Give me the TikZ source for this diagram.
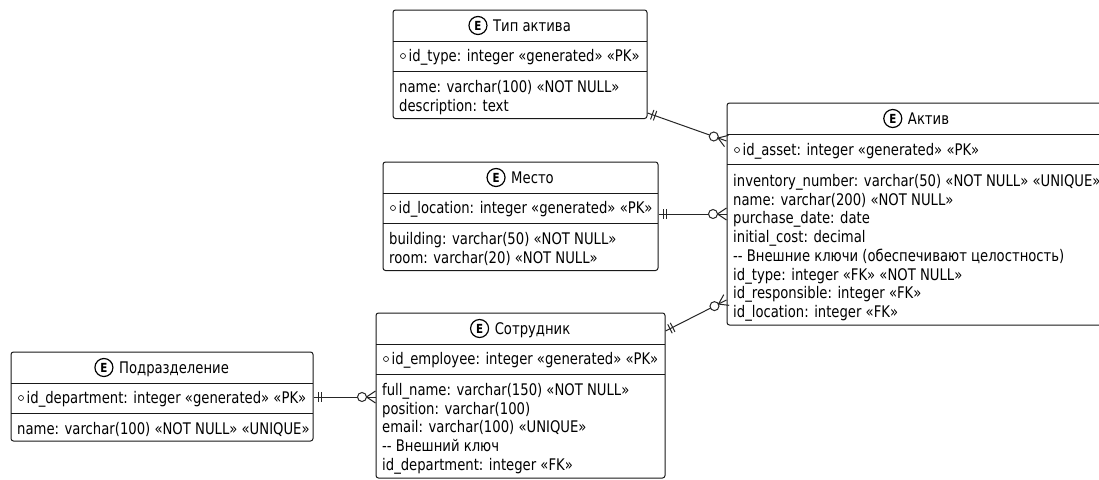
\documentclass[tikz,border=0pt]{standalone}
\usepackage{fontspec}
\setmainfont{DejaVu Sans}[FakeStretch=0.825]
\usetikzlibrary{calc,fit}
\tikzset{
  ent/.style={draw=black!90, line width=1pt, rounded corners=2.5pt, fill=white, inner sep=0pt},
  sepl/.style={draw=black!90, line width=1pt},
  txt/.style={anchor=base west, inner sep=0pt, font=\fontsize{16}{18.7}\selectfont},
  ttl/.style={anchor=base, inner sep=0pt, font=\fontsize{16}{18.7}\selectfont},
  ecirc/.style={draw=black, line width=1.2pt, circle, minimum size=18pt, inner sep=0pt, font=\bfseries\fontsize{12.5}{12.5}\selectfont},
  pk/.style={draw=black, line width=0.6pt, circle, minimum size=5pt, inner sep=0pt},
  lnk/.style={draw=black!85, line width=1pt},
}
% name, L, T, R, B, title
\newcommand\entity[6]{%
  \node[ent, fit={(#2,-#3) (#4,-#5)}] (#1) {};
  \draw[sepl] (#2,-#3-31) -- (#4,-#3-31);
  \draw[sepl] (#2,-#3-61) -- (#4,-#3-61);
  \node[ttl] (#1-t) at ({(#2+#4)/2+12},-#3-21.3) {#6};
  \node[ecirc] (#1-e) at ($(#1-t.base west)+(-15,5.8)$) {E};
}
% name, L, center y, text
\newcommand\pkrow[4]{%
  \node[pk] (#1-o) at (#2+10,-#3) {};
  \node[txt] (#1) at (#2+15.5,-#3-5.5) {#4};
}
\newcommand\attr[4]{\node[txt] (#1) at (#2+6,-#3-5.5) {#4};}
\newcommand\erlink[2]{%
  \draw[lnk] (#1) -- (#2);
  \draw[lnk] ($(#1)!5pt!(#2)!5pt!90:(#2)$) -- ($(#1)!5pt!(#2)!5pt!-90:(#2)$);
  \draw[lnk] ($(#1)!8pt!(#2)!5pt!90:(#2)$) -- ($(#1)!8pt!(#2)!5pt!-90:(#2)$);
  \draw[lnk] ($(#2)!6pt!90:(#1)$) -- ($(#2)!9pt!(#1)$) -- ($(#2)!6pt!-90:(#1)$);
  \draw[lnk, fill=white] ($(#2)!13.5pt!(#1)$) circle (4.5pt);
}
\begin{document}
\begin{tikzpicture}[x=1pt,y=1pt]
\clip (0,0) rectangle (1099,-479);
\fill[white] (0,0) rectangle (1099,-479);

% Тип актива
\entity{tip}{393}{10}{647}{118.5}{Тип актива}
\pkrow{tip-id}{393}{56}{id\_type: integer «generated» «PK»}
\attr{tip-a1}{393}{87}{name: varchar(100) «NOT NULL»}
\attr{tip-a2}{393}{105.7}{description: text}

% Место
\entity{mesto}{383}{162}{658}{270.5}{Место}
\pkrow{mesto-id}{383}{208}{id\_location: integer «generated» «PK»}
\attr{mesto-a1}{383}{239}{building: varchar(50) «NOT NULL»}
\attr{mesto-a2}{383}{257.7}{room: varchar(20) «NOT NULL»}

% Актив
\entity{aktiv}{727}{103}{1106}{325}{Актив}
\pkrow{aktiv-id}{727}{150}{id\_asset: integer «generated» «PK»}
\attr{aktiv-a1}{727}{181}{inventory\_number: varchar(50) «NOT NULL» «UNIQUE»}
\attr{aktiv-a2}{727}{199.7}{name: varchar(200) «NOT NULL»}
\attr{aktiv-a3}{727}{218.4}{purchase\_date: date}
\attr{aktiv-a4}{727}{237.1}{initial\_cost: decimal}
\attr{aktiv-a5}{727}{255.8}{-{}- Внешние ключи (обеспечивают целостность)}
\attr{aktiv-a6}{727}{274.5}{id\_type: integer «FK» «NOT NULL»}
\attr{aktiv-a7}{727}{293.2}{id\_responsible: integer «FK»}
\attr{aktiv-a8}{727}{311.9}{id\_location: integer «FK»}

% Сотрудник
\entity{sotr}{376}{313}{665}{478}{Сотрудник}
\pkrow{sotr-id}{376}{359}{id\_employee: integer «generated» «PK»}
\attr{sotr-a1}{376}{390}{full\_name: varchar(150) «NOT NULL»}
\attr{sotr-a2}{376}{408.7}{position: varchar(100)}
\attr{sotr-a3}{376}{427.4}{email: varchar(100) «UNIQUE»}
\attr{sotr-a4}{376}{446.1}{-{}- Внешний ключ}
\attr{sotr-a5}{376}{464.8}{id\_department: integer «FK»}

% Подразделение
\entity{podr}{11}{352}{313}{441}{Подразделение}
\pkrow{podr-id}{11}{398}{id\_department: integer «generated» «PK»}
\attr{podr-a1}{11}{429}{name: varchar(100) «NOT NULL» «UNIQUE»}

% link endpoints on the borders
\coordinate (tip-r) at (tip.east |- 0,-113);
\coordinate (aktiv-l1) at (aktiv.west |- 0,-141);
\coordinate (mesto-r) at (mesto.east |- 0,-214);
\coordinate (aktiv-l2) at (aktiv.west |- 0,-214);
\coordinate (sotr-r) at (sotr.east |- 0,-331);
\coordinate (aktiv-l3) at (aktiv.west |- 0,-300);
\coordinate (podr-r) at (podr.east |- 0,-397);
\coordinate (sotr-l) at (sotr.west |- 0,-397);

\erlink{tip-r}{aktiv-l1}
\erlink{mesto-r}{aktiv-l2}
\erlink{sotr-r}{aktiv-l3}
\erlink{podr-r}{sotr-l}
\end{tikzpicture}
\end{document}
